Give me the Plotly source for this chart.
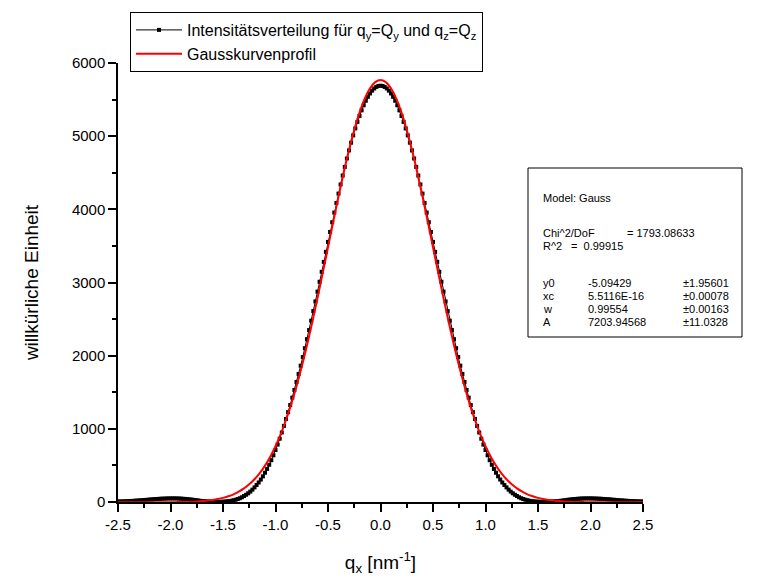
import numpy as np
import plotly.graph_objects as go

# ---- data ----
# measured intensity, sampled every 0.02 from -2.5 to 2.5
x_meas_start, x_meas_end, n_meas = -2.5, 2.5, 251
intensity = [
    6, 7, 8.2, 9.4, 10.7, 12, 13.6, 15.3, 17, 19, 21, 23, 25.5, 28, 30.5, 33, 35.5, 37.8, 40, 42,
    44, 45.3, 46.5, 47.5, 48.5, 49, 49.2, 49, 48.5, 47.5, 46, 44, 42, 39, 36, 33, 29, 25, 21, 17.5,
    14, 11.5, 9, 6.5, 4.5, 3, 2.4, 2.3, 2.5, 3, 4, 5.9, 8.5, 12, 17, 24, 31, 40, 51, 65,
    82, 99, 119, 142, 169, 200, 232, 267, 307, 351, 400, 452, 509, 571, 638, 710, 785, 865, 950, 1040,
    1135, 1228, 1325, 1426, 1531, 1640, 1750, 1863, 1981, 2102, 2225, 2350, 2478, 2609, 2741, 2875, 3010, 3146, 3282, 3419,
    3555, 3691, 3824, 3956, 4087, 4215, 4340, 4462, 4580, 4695, 4805, 4911, 5011, 5106, 5195, 5277, 5353, 5422, 5484, 5538,
    5584, 5622, 5652, 5673, 5686,
    5690,
    5686, 5673, 5652, 5622, 5584,
    5538, 5484, 5422, 5353, 5277, 5195, 5106, 5011, 4911, 4805, 4695, 4580, 4462, 4340, 4215, 4087, 3956, 3824, 3691, 3555,
    3419, 3282, 3146, 3010, 2875, 2741, 2609, 2478, 2350, 2225, 2102, 1981, 1863, 1750, 1640, 1531, 1426, 1325, 1228, 1135,
    1040, 950, 865, 785, 710, 638, 571, 509, 452, 400, 351, 307, 267, 232, 200, 169, 142, 119, 99, 82,
    65, 51, 40, 31, 24, 17, 12, 8.5, 5.9, 4, 3, 2.5, 2.3, 2.4, 3, 4.5, 6.5, 9, 11.5, 14,
    17.5, 21, 25, 29, 33, 36, 39, 42, 44, 46, 47.5, 48.5, 49, 49.2, 49, 48.5, 47.5, 46.5, 45.3, 44,
    42, 40, 37.8, 35.5, 33, 30.5, 28, 25.5, 23, 21, 19, 17, 15.3, 13.6, 12, 10.7, 9.4, 8.2, 7, 6,
]

# Gauss fit curve, sampled every 0.05 from -2.5 to 2.5
x_fit_start, x_fit_end, n_fit = -2.5, 2.5, 101
gauss_fit = [
    -5.1, -5.1, -5.1, -5.0, -5.0, -4.9, -4.8, -4.6, -4.3, -3.9, -3, -2, -1, 1, 3, 7, 12, 19, 28, 40,
    56, 78, 105, 141, 186, 242, 311, 395, 497, 619, 762, 929, 1121, 1338, 1582, 1851, 2143, 2456, 2787, 3131,
    3481, 3832, 4175, 4504, 4810, 5084, 5321, 5512, 5653, 5739,
    5768,
    5739, 5653, 5512, 5321, 5084, 4810, 4504, 4175, 3832, 3481,
    3131, 2787, 2456, 2143, 1851, 1582, 1338, 1121, 929, 762, 619, 497, 395, 311, 242, 186, 141, 105, 78, 56,
    40, 28, 19, 12, 7, 3, 1, -1, -2, -3, -3.9, -4.3, -4.6, -4.8, -4.9, -5.0, -5.0, -5.1, -5.1, -5.1,
]

x_ticks = [-2.5, -2.0, -1.5, -1.0, -0.5, 0.0, 0.5, 1.0, 1.5, 2.0, 2.5]
x_tick_labels = ["-2.5", "-2.0", "-1.5", "-1.0", "-0.5", "0.0", "0.5", "1.0", "1.5", "2.0", "2.5"]
y_ticks = [0, 1000, 2000, 3000, 4000, 5000, 6000]

series_names = [
    "Intensitätsverteilung für q<sub>y</sub>=Q<sub>y</sub> und q<sub>z</sub>=Q<sub>z</sub>",
    "Gausskurvenprofil",
]

fit_rows = [
    ("y0", "-5.09429", "±1.95601"),
    ("xc", "5.5116E-16", "±0.00078"),
    ("w", "0.99554", "±0.00163"),
    ("A", "7203.94568", "±11.0328"),
]

x_meas = np.linspace(x_meas_start, x_meas_end, n_meas)
x_fit = np.linspace(x_fit_start, x_fit_end, n_fit)

FONT = "Liberation Sans, Arial, sans-serif"

fig = go.Figure()
fig.add_trace(go.Scatter(
    x=x_meas, y=intensity, mode="lines+markers", name=series_names[0],
    line=dict(color="black", width=1),
    marker=dict(symbol="square", size=4, color="black"),
))
fig.add_trace(go.Scatter(
    x=x_fit, y=gauss_fit, mode="lines", name=series_names[1],
    line=dict(color="#ff0000", width=2, shape="spline"),
))

# plot area in pixels
L, R, T, B = 118, 643, 63, 502
W, H = 760, 579


def px(xp):
    return (xp - L) / (R - L)


def py(yp):
    return (B - yp) / (B - T)


fig.update_layout(
    width=W, height=H,
    margin=dict(l=L, r=W - R, t=T, b=H - B, autoexpand=False),
    paper_bgcolor="white", plot_bgcolor="white",
    font=dict(family=FONT, color="black", size=14),
    showlegend=True,
    legend=dict(
        x=px(130), y=py(12), xanchor="left", yanchor="top",
        bgcolor="white", bordercolor="black", borderwidth=1,
        font=dict(size=16, family=FONT), tracegroupgap=0,
        itemwidth=46,
    ),
)

fig.update_xaxes(
    range=[-2.5, 2.5], tickvals=x_ticks, ticktext=x_tick_labels,
    showgrid=False, zeroline=False, showline=True, linecolor="black", linewidth=1.5,
    ticks="outside", ticklen=8, tickwidth=1.5, tickcolor="black",
    minor=dict(dtick=0.25, tick0=-2.5, ticks="outside", ticklen=4, tickwidth=1.5, tickcolor="black"),
    tickfont=dict(size=15), automargin=False,
    title=dict(text="q<sub>x</sub> [nm<sup>-1</sup>]", font=dict(size=19), standoff=24),
)
fig.update_yaxes(
    range=[0, 6000], tickvals=y_ticks,
    showgrid=False, zeroline=False, showline=True, linecolor="black", linewidth=1.5,
    ticks="outside", ticklen=8, tickwidth=1.5, tickcolor="black",
    minor=dict(dtick=500, ticks="outside", ticklen=4, tickwidth=1.5, tickcolor="black"),
    tickfont=dict(size=15), automargin=False,
    title=dict(text="willkürliche Einheit", font=dict(size=19), standoff=28),
)

# fit results box
fig.add_shape(type="rect", xref="paper", yref="paper",
              x0=px(528), x1=px(742), y0=py(337), y1=py(168),
              line=dict(color="black", width=1), fillcolor="white", layer="above")

def note(x, y, text):
    fig.add_annotation(xref="paper", yref="paper", x=px(x), y=py(y), text=text,
                       showarrow=False, xanchor="left", yanchor="middle",
                       font=dict(size=11, family=FONT, color="black"))

note(541, 198, "Model: Gauss")
note(541, 233, "Chi^2/DoF")
note(625, 233, "= 1793.08633")
note(541, 246, "R^2")
note(569, 246, "=  0.99915")
row_y = [283, 296, 309, 322]
for (name, val, err), yy in zip(fit_rows, row_y):
    note(541, yy, name)
    note(586, yy, val)
    note(681, yy, err)

fig.write_html("out.html")
